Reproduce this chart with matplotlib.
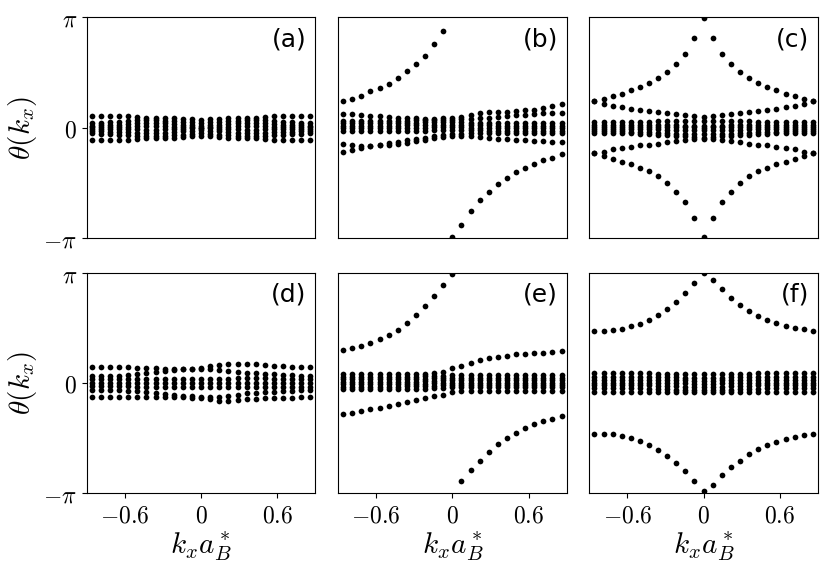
import numpy as np
import matplotlib
matplotlib.use("Agg")
import matplotlib.pyplot as plt

plt.rcParams["mathtext.fontset"] = "cm"

# kx grid (in units of 1/a_B*)
kx = [-0.86, -0.788, -0.717, -0.645, -0.573, -0.502, -0.43, -0.358, -0.287,
      -0.215, -0.143, -0.072, 0.0, 0.072, 0.143, 0.215, 0.287, 0.358, 0.43,
      0.502, 0.573, 0.645, 0.717, 0.788, 0.86]

# ── (a) ─────────────────────────────────────────────
a_1 = [0.34, 0.34, 0.34, 0.34, 0.33, 0.31, 0.29, 0.28, 0.27, 0.27, 0.26, 0.24, 0.22, 0.24, 0.26, 0.27, 0.27, 0.28, 0.29, 0.31, 0.33, 0.34, 0.34, 0.34, 0.34]
a_2 = [0.13, 0.14, 0.15, 0.17, 0.19, 0.21, 0.21, 0.21, 0.20, 0.19, 0.17, 0.15, 0.13, 0.15, 0.17, 0.19, 0.20, 0.21, 0.21, 0.21, 0.19, 0.17, 0.15, 0.14, 0.13]
a_3 = [0.06, 0.07, 0.08, 0.09, 0.10, 0.12, 0.13, 0.13, 0.12, 0.11, 0.09, 0.07, 0.05, 0.07, 0.09, 0.11, 0.12, 0.13, 0.13, 0.12, 0.10, 0.09, 0.08, 0.07, 0.06]
a_4 = [0.01, 0.01, 0.02, 0.02, 0.03, 0.04, 0.05, 0.05, 0.04, 0.03, 0.02, 0.01, 0.00, 0.01, 0.02, 0.03, 0.04, 0.05, 0.05, 0.04, 0.03, 0.02, 0.02, 0.01, 0.01]
a_5 = [-0.04, -0.04, -0.05, -0.05, -0.05, -0.05, -0.06, -0.06, -0.05, -0.04, -0.03, -0.02, -0.01, -0.02, -0.03, -0.04, -0.05, -0.06, -0.06, -0.05, -0.05, -0.05, -0.05, -0.04, -0.04]
a_6 = [-0.10, -0.10, -0.11, -0.12, -0.13, -0.14, -0.15, -0.15, -0.14, -0.12, -0.10, -0.08, -0.06, -0.08, -0.10, -0.12, -0.14, -0.15, -0.15, -0.14, -0.13, -0.12, -0.11, -0.10, -0.10]
a_7 = [-0.16, -0.17, -0.18, -0.20, -0.22, -0.24, -0.25, -0.25, -0.24, -0.22, -0.20, -0.17, -0.15, -0.17, -0.20, -0.22, -0.24, -0.25, -0.25, -0.24, -0.22, -0.20, -0.18, -0.17, -0.16]
a_8 = [-0.35, -0.35, -0.35, -0.35, -0.34, -0.32, -0.30, -0.29, -0.28, -0.28, -0.27, -0.25, -0.23, -0.25, -0.27, -0.28, -0.28, -0.29, -0.30, -0.32, -0.34, -0.35, -0.35, -0.35, -0.35]

# ── (b) ─────────────────────────────────────────────
b_wind = [0.77, 0.83, 0.91, 1.03, 1.12, 1.25, 1.41, 1.60, 1.81, 2.05, 2.38, 2.74, -3.12, -2.76, -2.38, -2.07, -1.82, -1.61, -1.43, -1.27, -1.14, -1.03, -0.92, -0.85, -0.76]
b_up = [0.40, 0.38, 0.35, 0.33, 0.32, 0.31, 0.29, 0.28, 0.27, 0.26, 0.26, 0.27, 0.29, 0.31, 0.36, 0.41, 0.44, 0.45, 0.46, 0.48, 0.49, 0.51, 0.55, 0.62, 0.67]
b_up2 = [0.20, 0.20, 0.20, 0.20, 0.20, 0.20, 0.20, 0.20, 0.21, 0.21, 0.22, 0.22, 0.23, 0.24, 0.25, 0.27, 0.29, 0.31, 0.33, 0.35, 0.37, 0.39, 0.41, 0.43, 0.43]
b_c1 = [0.12, 0.12, 0.12, 0.12, 0.12, 0.13, 0.13, 0.14, 0.14, 0.15, 0.15, 0.15, 0.15, 0.15, 0.14, 0.14, 0.13, 0.13, 0.13, 0.13, 0.13, 0.13, 0.13, 0.13, 0.13]
b_c2 = [0.05, 0.05, 0.05, 0.05, 0.06, 0.06, 0.06, 0.07, 0.07, 0.08, 0.08, 0.08, 0.08, 0.08, 0.07, 0.07, 0.07, 0.06, 0.06, 0.06, 0.06, 0.06, 0.06, 0.06, 0.06]
b_c3 = [-0.02, -0.02, -0.02, -0.02, -0.01, -0.01, -0.01, 0.00, 0.00, 0.00, 0.01, 0.01, 0.01, 0.01, 0.00, 0.00, 0.00, 0.00, 0.00, -0.01, -0.01, -0.01, -0.01, -0.01, -0.01]
b_c4 = [-0.09, -0.09, -0.09, -0.09, -0.09, -0.09, -0.09, -0.08, -0.08, -0.08, -0.07, -0.06, -0.06, -0.06, -0.07, -0.07, -0.08, -0.08, -0.08, -0.08, -0.08, -0.08, -0.08, -0.08, -0.08]
b_dn2 = [-0.45, -0.48, -0.52, -0.52, -0.48, -0.44, -0.40, -0.36, -0.32, -0.28, -0.24, -0.21, -0.19, -0.17, -0.16, -0.15, -0.15, -0.15, -0.15, -0.15, -0.15, -0.15, -0.15, -0.15, -0.15]
b_dn = [-0.70, -0.64, -0.57, -0.52, -0.50, -0.48, -0.46, -0.43, -0.39, -0.34, -0.29, -0.26, -0.24, -0.24, -0.25, -0.27, -0.29, -0.31, -0.33, -0.34, -0.36, -0.37, -0.38, -0.40, -0.40]

# ── (c) ─────────────────────────────────────────────
c_out = [0.76, 0.83, 0.90, 0.97, 1.07, 1.15, 1.28, 1.41, 1.59, 1.80, 2.10, 2.55, 3.12, 2.55, 2.10, 1.80, 1.59, 1.41, 1.28, 1.15, 1.07, 0.97, 0.90, 0.83, 0.76]
c_in = [0.76, 0.67, 0.62, 0.58, 0.54, 0.50, 0.48, 0.44, 0.41, 0.38, 0.35, 0.33, 0.31, 0.33, 0.35, 0.38, 0.41, 0.44, 0.48, 0.50, 0.54, 0.58, 0.62, 0.67, 0.76]
c_c1 = [0.15, 0.15, 0.15, 0.16, 0.16, 0.17, 0.17, 0.18, 0.18, 0.19, 0.19, 0.19, 0.18, 0.19, 0.19, 0.19, 0.18, 0.18, 0.17, 0.17, 0.16, 0.16, 0.15, 0.15, 0.15]
c_c2 = [0.09, 0.09, 0.09, 0.09, 0.09, 0.09, 0.08, 0.08, 0.07, 0.07, 0.06, 0.06, 0.05, 0.06, 0.06, 0.07, 0.07, 0.08, 0.08, 0.09, 0.09, 0.09, 0.09, 0.09, 0.09]
c_c3 = [0.03, 0.03, 0.03, 0.03, 0.03, 0.03, 0.03, 0.02, 0.02, 0.02, 0.01, 0.01, 0.00, 0.01, 0.01, 0.02, 0.02, 0.02, 0.03, 0.03, 0.03, 0.03, 0.03, 0.03, 0.03]
c_c4 = [-0.03, -0.03, -0.03, -0.03, -0.03, -0.04, -0.04, -0.05, -0.06, -0.06, -0.07, -0.07, -0.07, -0.07, -0.07, -0.06, -0.06, -0.05, -0.04, -0.04, -0.03, -0.03, -0.03, -0.03, -0.03]
c_c5 = [-0.09, -0.09, -0.09, -0.10, -0.11, -0.12, -0.13, -0.15, -0.16, -0.17, -0.18, -0.18, -0.17, -0.18, -0.18, -0.17, -0.16, -0.15, -0.13, -0.12, -0.11, -0.10, -0.09, -0.09, -0.09]
c_c6 = [-0.15, -0.15, -0.15, -0.16, -0.16, -0.17, -0.18, -0.20, -0.22, -0.24, -0.25, -0.27, -0.28, -0.27, -0.25, -0.24, -0.22, -0.20, -0.18, -0.17, -0.16, -0.16, -0.15, -0.15, -0.15]
c_in_n = [-0.73, -0.68, -0.62, -0.58, -0.54, -0.50, -0.48, -0.45, -0.40, -0.37, -0.35, -0.33, -0.32, -0.33, -0.35, -0.37, -0.40, -0.45, -0.48, -0.50, -0.54, -0.58, -0.62, -0.68, -0.73]
c_out_n = [-0.73, -0.81, -0.89, -0.97, -1.04, -1.14, -1.24, -1.38, -1.57, -1.82, -2.11, -2.57, -3.12, -2.57, -2.11, -1.82, -1.57, -1.38, -1.24, -1.14, -1.04, -0.97, -0.89, -0.81, -0.73]

# ── (d) ─────────────────────────────────────────────
d_1 = [0.44, 0.44, 0.44, 0.44, 0.44, 0.43, 0.43, 0.42, 0.41, 0.41, 0.40, 0.40, 0.43, 0.47, 0.50, 0.53, 0.55, 0.54, 0.53, 0.51, 0.49, 0.47, 0.46, 0.46, 0.46]
d_2 = [0.20, 0.20, 0.20, 0.21, 0.22, 0.25, 0.28, 0.31, 0.34, 0.37, 0.39, 0.40, 0.41, 0.40, 0.37, 0.33, 0.30, 0.29, 0.28, 0.26, 0.25, 0.23, 0.22, 0.21, 0.20]
d_3 = [0.10, 0.10, 0.10, 0.10, 0.10, 0.11, 0.11, 0.12, 0.12, 0.12, 0.12, 0.12, 0.12, 0.12, 0.12, 0.12, 0.13, 0.13, 0.13, 0.13, 0.12, 0.12, 0.11, 0.11, 0.11]
d_4 = [0.00, 0.00, 0.00, 0.00, 0.00, 0.00, 0.00, 0.00, 0.00, 0.00, 0.00, 0.00, 0.00, 0.00, 0.00, 0.00, 0.00, 0.00, 0.00, 0.00, 0.00, 0.00, 0.00, 0.00, 0.00]
d_5 = [-0.10, -0.10, -0.10, -0.10, -0.10, -0.11, -0.11, -0.11, -0.12, -0.12, -0.12, -0.12, -0.12, -0.12, -0.12, -0.12, -0.12, -0.12, -0.12, -0.12, -0.11, -0.11, -0.11, -0.11, -0.11]
d_6 = [-0.20, -0.20, -0.20, -0.21, -0.22, -0.24, -0.27, -0.29, -0.31, -0.33, -0.36, -0.38, -0.40, -0.40, -0.39, -0.36, -0.33, -0.30, -0.28, -0.26, -0.25, -0.23, -0.22, -0.21, -0.20]
d_7 = [-0.41, -0.41, -0.41, -0.41, -0.41, -0.40, -0.39, -0.39, -0.40, -0.40, -0.41, -0.42, -0.43, -0.47, -0.51, -0.51, -0.49, -0.47, -0.45, -0.44, -0.43, -0.42, -0.42, -0.41, -0.41]

# ── (e) ─────────────────────────────────────────────
e_wind = [0.94, 0.99, 1.06, 1.14, 1.25, 1.37, 1.52, 1.71, 1.92, 2.18, 2.47, 2.80, 3.11, -2.80, -2.49, -2.21, -1.96, -1.75, -1.57, -1.43, -1.29, -1.18, -1.09, -1.02, -0.94]
e_up = [0.24, 0.24, 0.24, 0.24, 0.24, 0.24, 0.24, 0.25, 0.25, 0.26, 0.28, 0.31, 0.42, 0.49, 0.58, 0.66, 0.71, 0.75, 0.78, 0.81, 0.83, 0.84, 0.86, 0.88, 0.91]
e_c1 = [0.17, 0.17, 0.17, 0.17, 0.17, 0.17, 0.17, 0.18, 0.18, 0.19, 0.20, 0.21, 0.22, 0.22, 0.22, 0.22, 0.22, 0.22, 0.22, 0.22, 0.22, 0.22, 0.22, 0.22, 0.22]
e_c2 = [0.10, 0.10, 0.10, 0.10, 0.10, 0.10, 0.10, 0.11, 0.11, 0.12, 0.13, 0.14, 0.15, 0.15, 0.15, 0.15, 0.15, 0.15, 0.15, 0.15, 0.15, 0.15, 0.15, 0.15, 0.15]
e_c3 = [0.03, 0.03, 0.03, 0.03, 0.03, 0.03, 0.03, 0.04, 0.04, 0.05, 0.06, 0.07, 0.08, 0.08, 0.08, 0.08, 0.08, 0.08, 0.08, 0.08, 0.08, 0.08, 0.08, 0.08, 0.08]
e_c4 = [-0.04, -0.04, -0.04, -0.04, -0.04, -0.04, -0.04, -0.03, -0.03, -0.02, -0.01, 0.00, 0.01, 0.01, 0.01, 0.01, 0.01, 0.01, 0.01, 0.01, 0.01, 0.01, 0.01, 0.01, 0.01]
e_c5 = [-0.11, -0.11, -0.11, -0.11, -0.11, -0.11, -0.11, -0.10, -0.10, -0.09, -0.08, -0.07, -0.06, -0.06, -0.06, -0.06, -0.06, -0.06, -0.06, -0.06, -0.06, -0.06, -0.06, -0.06, -0.06]
e_c6 = [-0.18, -0.18, -0.18, -0.18, -0.18, -0.18, -0.18, -0.18, -0.17, -0.16, -0.15, -0.14, -0.13, -0.13, -0.13, -0.13, -0.13, -0.13, -0.13, -0.13, -0.13, -0.13, -0.13, -0.13, -0.13]
e_dn = [-0.88, -0.85, -0.80, -0.75, -0.70, -0.66, -0.61, -0.55, -0.49, -0.43, -0.38, -0.33, -0.26, -0.24, -0.23, -0.22, -0.22, -0.22, -0.22, -0.22, -0.22, -0.22, -0.22, -0.22, -0.22]

# ── (f) ─────────────────────────────────────────────
f_up = [1.47, 1.47, 1.50, 1.54, 1.61, 1.69, 1.80, 1.93, 2.10, 2.31, 2.56, 2.83, 3.12, 2.93, 2.66, 2.42, 2.23, 2.05, 1.91, 1.80, 1.70, 1.62, 1.56, 1.53, 1.49]
f_c1 = [0.28, 0.28, 0.28, 0.28, 0.28, 0.28, 0.27, 0.26, 0.25, 0.24, 0.24, 0.24, 0.24, 0.24, 0.24, 0.24, 0.25, 0.26, 0.27, 0.27, 0.28, 0.28, 0.28, 0.28, 0.28]
f_c2 = [0.17, 0.17, 0.17, 0.17, 0.17, 0.17, 0.17, 0.17, 0.16, 0.16, 0.15, 0.15, 0.14, 0.15, 0.15, 0.16, 0.16, 0.17, 0.17, 0.17, 0.17, 0.17, 0.17, 0.17, 0.17]
f_c3 = [0.09, 0.09, 0.09, 0.09, 0.09, 0.09, 0.09, 0.09, 0.08, 0.08, 0.07, 0.06, 0.05, 0.06, 0.07, 0.08, 0.08, 0.09, 0.09, 0.09, 0.09, 0.09, 0.09, 0.09, 0.09]
f_c4 = [0.01, 0.01, 0.01, 0.01, 0.01, 0.01, 0.01, 0.01, 0.00, 0.00, -0.01, -0.02, -0.03, -0.02, -0.01, 0.00, 0.00, 0.01, 0.01, 0.01, 0.01, 0.01, 0.01, 0.01, 0.01]
f_c5 = [-0.07, -0.07, -0.07, -0.07, -0.07, -0.07, -0.07, -0.08, -0.09, -0.10, -0.11, -0.11, -0.11, -0.11, -0.11, -0.10, -0.09, -0.08, -0.07, -0.07, -0.07, -0.07, -0.07, -0.07, -0.07]
f_c6 = [-0.15, -0.15, -0.15, -0.15, -0.15, -0.15, -0.16, -0.17, -0.18, -0.19, -0.20, -0.20, -0.20, -0.20, -0.20, -0.19, -0.18, -0.17, -0.16, -0.15, -0.15, -0.15, -0.15, -0.15, -0.15]
f_c7 = [-0.25, -0.25, -0.25, -0.25, -0.25, -0.25, -0.25, -0.25, -0.25, -0.25, -0.25, -0.25, -0.25, -0.25, -0.25, -0.25, -0.25, -0.25, -0.25, -0.25, -0.25, -0.25, -0.25, -0.25, -0.25]
f_dn = [-1.44, -1.44, -1.46, -1.51, -1.57, -1.66, -1.76, -1.90, -2.08, -2.27, -2.52, -2.79, -3.08, -2.90, -2.63, -2.40, -2.21, -2.02, -1.88, -1.77, -1.67, -1.60, -1.53, -1.48, -1.45]

panel_labels = ["(a)", "(b)", "(c)", "(d)", "(e)", "(f)"]
panel_bands = [
    [a_1, a_2, a_3, a_4, a_5, a_6, a_7, a_8],
    [b_wind, b_up, b_up2, b_c1, b_c2, b_c3, b_c4, b_dn2, b_dn],
    [c_out, c_in, c_c1, c_c2, c_c3, c_c4, c_c5, c_c6, c_in_n, c_out_n],
    [d_1, d_2, d_3, d_4, d_5, d_6, d_7],
    [e_wind, e_up, e_c1, e_c2, e_c3, e_c4, e_c5, e_c6, e_dn],
    [f_up, f_c1, f_c2, f_c3, f_c4, f_c5, f_c6, f_c7, f_dn],
]

fig, axes = plt.subplots(2, 3, figsize=(8.3, 5.69), dpi=100)
fig.subplots_adjust(left=0.1045, right=0.9855, top=0.9696, bottom=0.133,
                    wspace=0.099, hspace=0.156)

for i, ax in enumerate(axes.flat):
    for band in panel_bands[i]:
        ax.scatter(kx, band, s=17, c="k", linewidths=0)
    ax.set_xlim(-0.9, 0.9)
    ax.set_ylim(-np.pi, np.pi)
    ax.text(0.962, 0.9, panel_labels[i], transform=ax.transAxes,
            ha="right", va="center", fontsize=18)

    row, col = divmod(i, 3)
    if col == 0:
        ax.set_yticks([-np.pi, 0, np.pi])
        ax.set_yticklabels([r"$-\pi$", r"$0$", r"$\pi$"], fontsize=17)
        ax.set_ylabel(r"$\theta(k_x)$", fontsize=21, labelpad=3)
    else:
        ax.set_yticks([])
    if row == 1:
        ax.set_xticks([-0.6, 0, 0.6])
        ax.set_xticklabels([r"$-0.6$", r"$0$", r"$0.6$"], fontsize=17)
        ax.set_xlabel(r"$k_x a_B^*$", fontsize=21, labelpad=2)
    else:
        ax.set_xticks([])

plt.savefig("out.png", dpi=100)
plt.close()
